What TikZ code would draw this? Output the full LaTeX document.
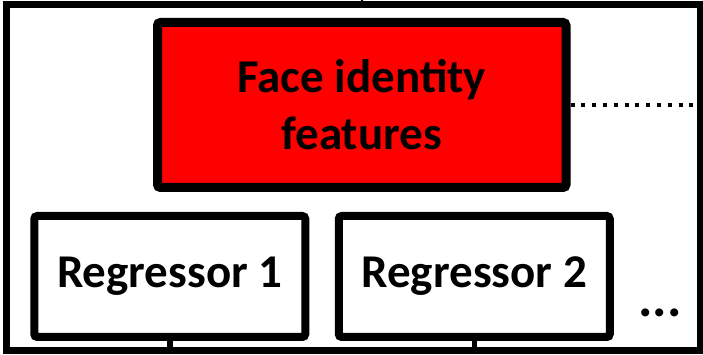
\documentclass[tikz,border=0pt]{standalone}
\usepackage{fontspec}
\setmainfont{Carlito}
\usetikzlibrary{arrows.meta,positioning,calc}
\definecolor{FaceRed}{HTML}{FF0000}

\begin{document}
\begin{tikzpicture}[
  x=1pt, y=1pt,
  node distance=25.5pt,
  frame/.style={draw=black, line width=7pt, minimum width=694pt, minimum height=346pt, inner sep=0pt},
  facebox/.style={draw=black, fill=FaceRed, line width=9pt, rounded corners=3pt, minimum width=408.5pt, minimum height=165pt, align=center, font=\fontsize{47}{57}\selectfont\bfseries},
  regbox/.style={draw=black, fill=white, line width=8pt, rounded corners=3pt, minimum width=271pt, minimum height=121pt, font=\fontsize{47}{57}\selectfont\bfseries},
  link/.style={black, line width=5.5pt},
  dots/.style={black, line width=4.5pt, dash pattern=on 4pt off 6.8pt}
]
\useasboundingbox (0,0) rectangle (703,355);
% outer block
\node[frame] (outer) at (353,177.5) {};
\node[facebox] (face) at (361.75,250) {Face identity\\features};
\node[regbox] (reg1) at (169.75,78.5) {Regressor 1};
\node[regbox, right=of reg1] (reg2) {Regressor 2};
\node[anchor=base, inner sep=0pt, font=\fontsize{54}{60}\selectfont\bfseries] (more) at (660,38) {...};

% links
\draw[-{Triangle[width=16pt,length=12pt]}, line width=5pt] ($(outer.north)+(9,30)$) -- ($(outer.north)+(9,-1)$);
\draw[dots] (face.east) -- (face.east -| outer.east);
\draw[link] (reg1.south) -- (reg1.south |- outer.south);
\draw[link] (reg2.south) -- (reg2.south |- outer.south);
\end{tikzpicture}
\end{document}
